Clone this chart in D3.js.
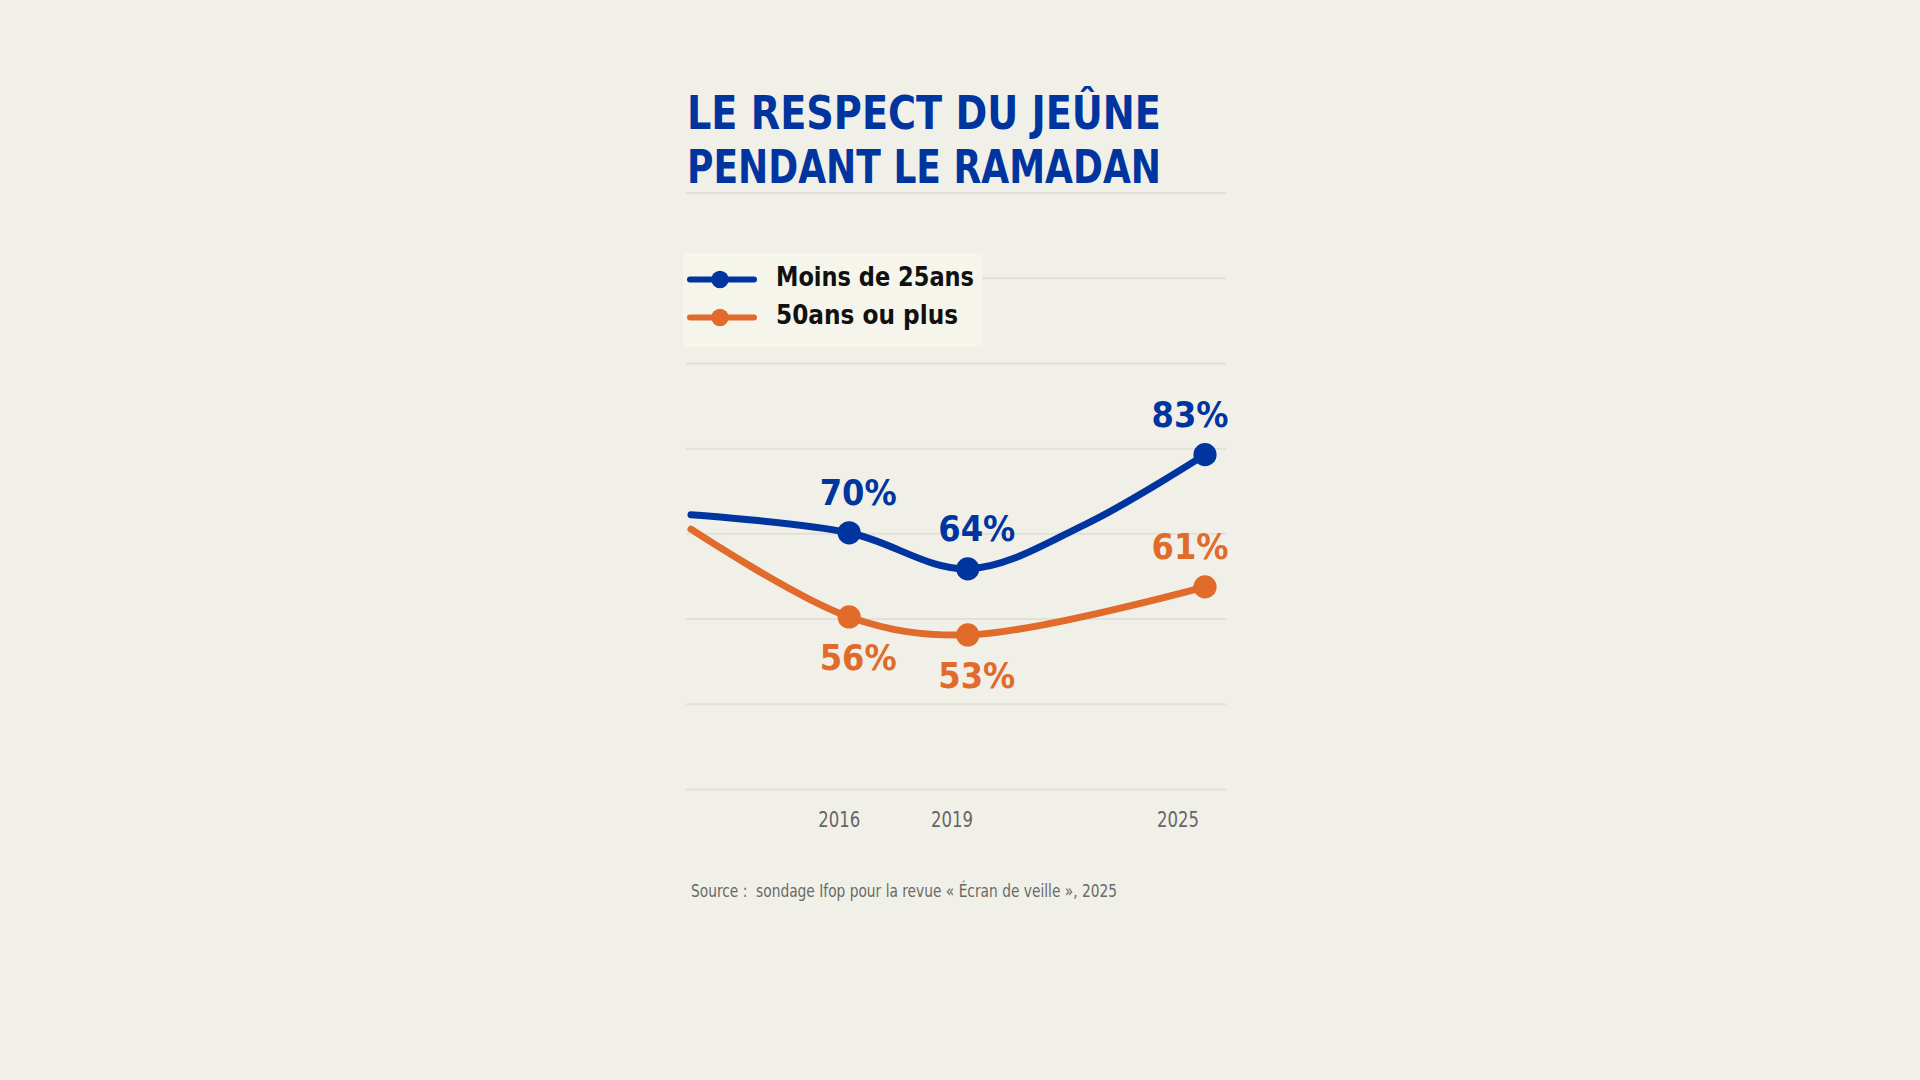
<!DOCTYPE html>
<html>
<head>
<meta charset="utf-8">
<script src="https://cdn.jsdelivr.net/npm/d3@7"></script>
<style>
  html, body { margin: 0; padding: 0; background: #f0f0e8; }
  svg { display: block; }
  text { font-family: "DejaVu Sans Condensed", "DejaVu Sans", sans-serif; font-stretch: condensed; }
</style>
</head>
<body>
<svg id="chart" width="1920" height="1080"></svg>
<script>
// ---- data ----
const titleLines = ["LE RESPECT DU JEÛNE", "PENDANT LE RAMADAN"];
const years = [2012, 2016, 2019, 2022, 2025];
const moins25 = [73, 70, 64, 71.5, 83];
const plus50 = [70.6, 56, 53, null, 61];
const labeledYears = [2016, 2019, 2025];
const seriesNames = ["Moins de 25ans", "50ans ou plus"];
const tickLabels = ["2016", "2019", "2025"];
const sourceText = "Source :  sondage Ifop pour la revue « Écran de veille », 2025";

const BLUE = "#00349f", ORANGE = "#e06b2a";
const colors = [BLUE, ORANGE];

const svg = d3.select("#chart");
svg.append("rect").attr("width", 1920).attr("height", 1080).attr("fill", "#f0f0e8");

function fit(node, width) {
  node.setAttribute("textLength", width);
  node.setAttribute("lengthAdjust", "spacingAndGlyphs");
}
function condense(sel, sampleIndex, target) {
  const nodes = sel.nodes();
  const factor = target / nodes[sampleIndex].getComputedTextLength();
  nodes.forEach(n => fit(n, n.getComputedTextLength() * factor));
}

// ---- scales ----
const x = d3.scaleLinear().domain([2012, 2025]).range([691, 1205]);
const y = d3.scaleLinear().domain([50, 90]).range([653, 412.6]);
const grid = d3.scaleLinear().domain([0, 7]).range([789.4, 193.1]);

// ---- gridlines ----
svg.append("g").selectAll("line").data(d3.range(8)).join("line")
  .attr("x1", 686).attr("x2", 1226)
  .attr("y1", d => grid(d)).attr("y2", d => grid(d))
  .attr("stroke", "#e2e1d9").attr("stroke-width", 2);

// ---- title ----
svg.append("g").selectAll("text").data(titleLines).join("text")
  .attr("fill", BLUE).attr("font-size", 46).attr("font-weight", "bold")
  .attr("x", 687).attr("y", (d, i) => 129 + i * 54)
  .text(d => d)
  .each(function () { fit(this, 474); });

// ---- legend ----
const legend = svg.append("g");
legend.append("rect").attr("x", 683).attr("y", 253).attr("width", 299).attr("height", 94)
  .attr("fill", "#f5f5ec");
const li = legend.selectAll("g.item").data(seriesNames).join("g").attr("class", "item")
  .attr("transform", (d, i) => `translate(0, ${279.5 + i * 38})`);
li.append("line").attr("x1", 690).attr("x2", 754).attr("y1", 0).attr("y2", 0)
  .attr("stroke", (d, i) => colors[i]).attr("stroke-width", 6).attr("stroke-linecap", "round");
li.append("circle").attr("cx", 720).attr("cy", 0).attr("r", 8.7).attr("fill", (d, i) => colors[i]);
const legendWidths = [198, 182];
li.append("text").attr("x", 776).attr("y", 6.5)
  .attr("font-size", 26.5).attr("font-weight", "bold").attr("fill", "#111")
  .text(d => d)
  .each(function (d, i) { fit(this, legendWidths[i]); });

// ---- lines ----
const series = [moins25, plus50].map((vals, si) => ({
  color: colors[si],
  index: si,
  pts: years.map((yr, i) => ({ year: yr, v: vals[i] })).filter(p => p.v != null)
}));

const line = d3.line().x(d => x(d.year)).y(d => y(d.v)).curve(d3.curveCatmullRom);

svg.append("g").selectAll("path").data(series).join("path")
  .attr("d", s => line(s.pts))
  .attr("fill", "none").attr("stroke", s => s.color).attr("stroke-width", 7)
  .attr("stroke-linecap", "round").attr("stroke-linejoin", "round");

// ---- markers & labels ----
const marks = svg.append("g");
const labelNodes = [];
series.forEach(s => {
  const pts = s.pts.filter(p => labeledYears.includes(p.year));
  marks.selectAll(null).data(pts).join("circle")
    .attr("cx", d => x(d.year)).attr("cy", d => y(d.v)).attr("r", 11.6)
    .attr("fill", s.color);
  const lab = marks.selectAll(null).data(pts).join("text")
    .attr("x", d => x(d.year) + (d.year === 2025 ? -15 : 9))
    .attr("y", d => y(d.v) + ((s.index === 0 || d.year === 2025) ? -27.5 : 53))
    .attr("text-anchor", "middle")
    .attr("font-size", 36).attr("font-weight", "bold").attr("fill", s.color)
    .text(d => d3.format(".0f")(d.v) + "%");
  lab.nodes().forEach(n => labelNodes.push(n));
});
condense(d3.selectAll(labelNodes), 0, 77);

// ---- x axis labels ----
const axisG = svg.append("g").attr("transform", "translate(0, 827)");
const axisText = axisG.selectAll("text").data(labeledYears).join("text")
  .attr("x", d => x(d) - 10 - (d - 2016) * 1.9).attr("y", 0)
  .attr("text-anchor", "middle")
  .attr("font-size", 22).attr("fill", "#666")
  .text((d, i) => tickLabels[i]);
condense(axisText, 0, 42);

// ---- source ----
const src = svg.append("text").attr("x", 691).attr("y", 897)
  .attr("font-size", 17.5).attr("fill", "#6a6a66")
  .attr("xml:space", "preserve").style("white-space", "pre")
  .text(sourceText);
fit(src.node(), 426);
</script>
</body>
</html>
